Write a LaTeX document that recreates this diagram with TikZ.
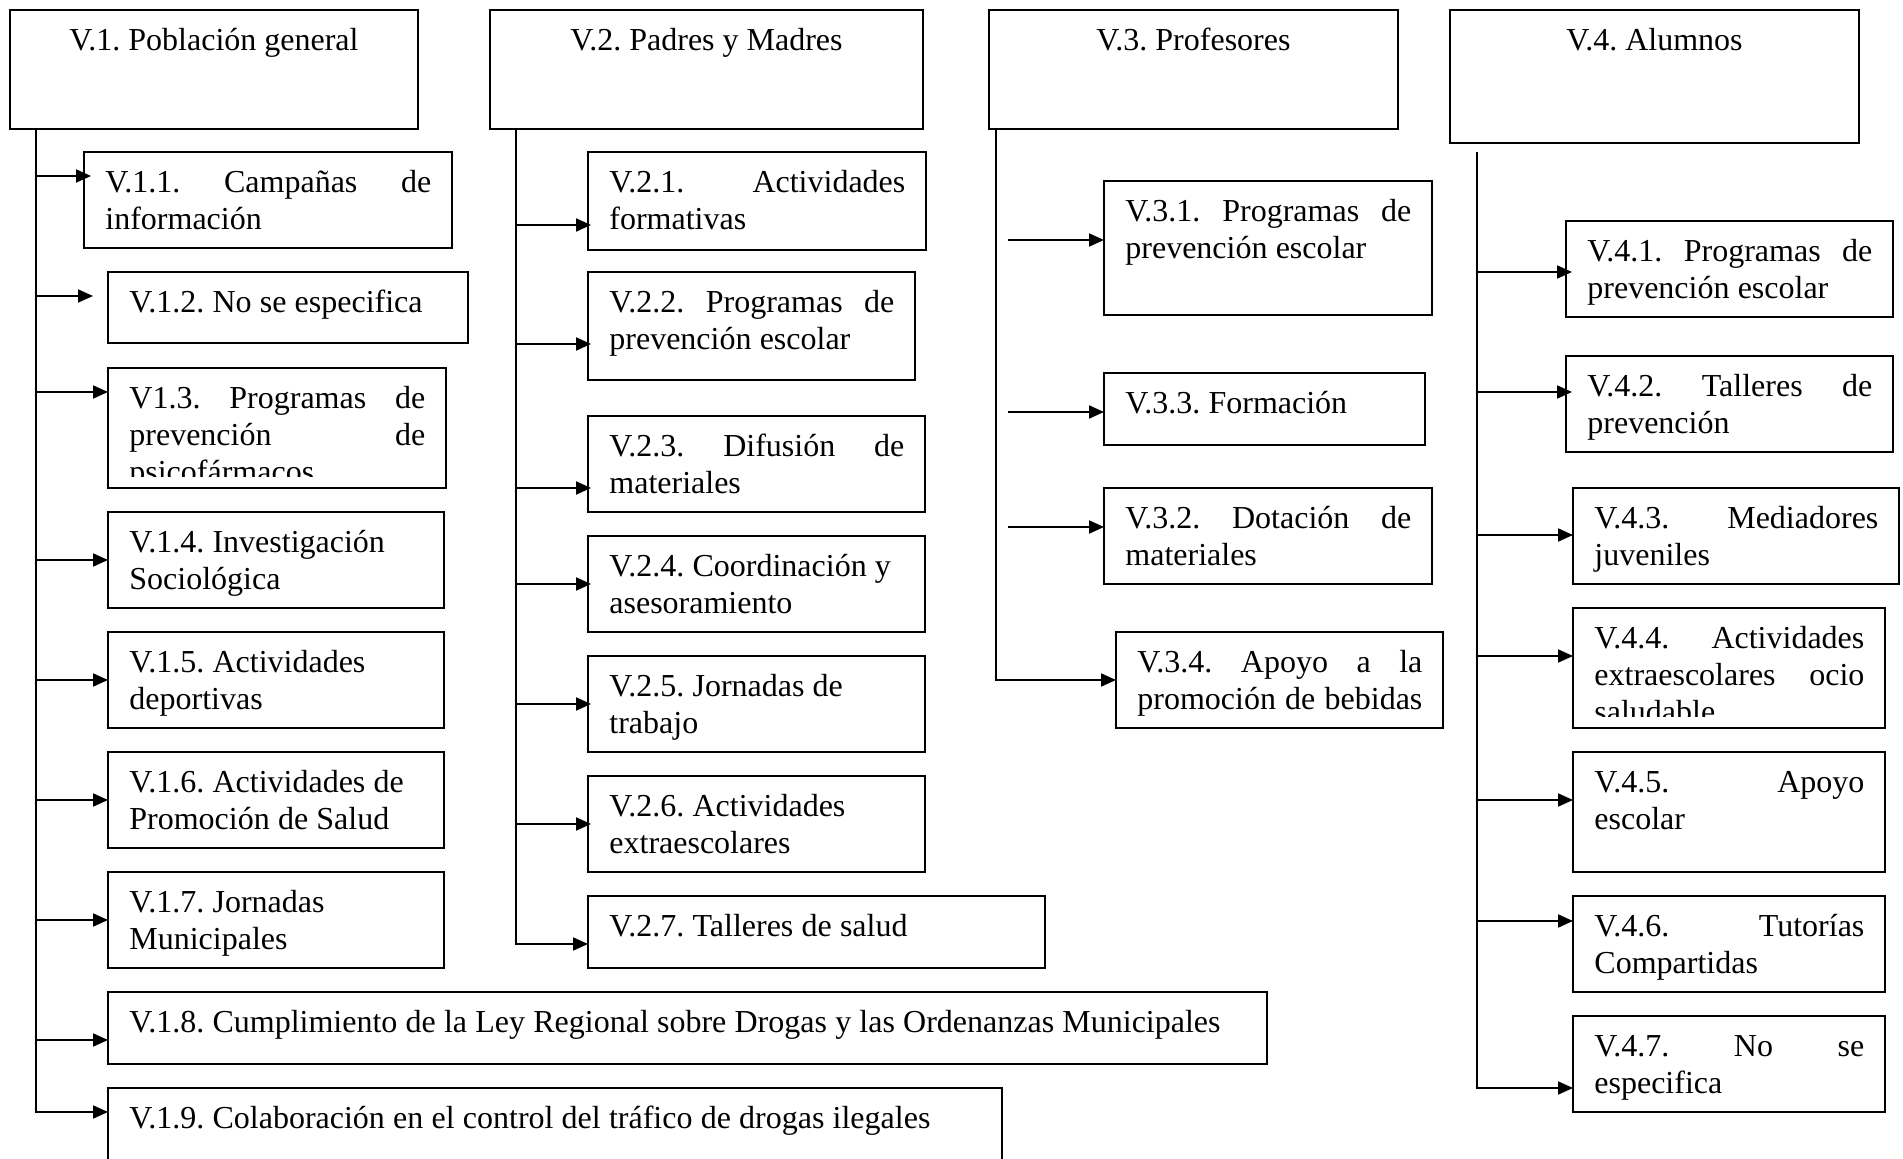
\documentclass[tikz,border=0pt]{standalone}
\usepackage{fontspec}
\setmainfont{Liberation Serif}
\usetikzlibrary{arrows.meta}
\frenchspacing
\hyphenpenalty=10000
\exhyphenpenalty=10000

% child box: name, x, y, width, height (in px units), text
\newcommand\childbox[6]{%
  \pgfmathsetmacro\bw{#4*0.5}%
  \pgfmathsetmacro\bh{#5*0.5}%
  \pgfmathsetmacro\tw{(#4-42)*0.5}%
  \node[frame, minimum width=\bw pt, minimum height=\bh pt] (#1) at (#2,#3) {};
  \begin{scope}
    \clip ([shift={(1pt,-1pt)}]#1.north west) rectangle ([shift={(-1pt,5.5pt)}]#1.south east);
    \node[itemtext, text width=\tw pt] at ([shift={(10.5pt,-20.25pt)}]#1.north west)
      {\spaceskip=4.1pt plus 1.5pt minus 1pt\relax #6};
  \end{scope}}

% heading box: name, x, y, width, height, text
\newcommand\headbox[6]{%
  \pgfmathsetmacro\bw{#4*0.5}%
  \pgfmathsetmacro\bh{#5*0.5}%
  \node[frame, minimum width=\bw pt, minimum height=\bh pt] (#1) at (#2,#3) {};
  \node[headtext] at ([yshift=-20.5pt]#1.north) {#6};}

\begin{document}
\begin{tikzpicture}[x=0.5pt,y=-0.5pt,
  frame/.style={draw, rectangle, line width=1pt, anchor=north west, inner sep=0pt, outer sep=0pt},
  itemtext/.style={anchor=base west, inner sep=0pt, font=\fontsize{16}{18.4}\selectfont},
  headtext/.style={anchor=base, inner sep=0pt, font=\fontsize{16}{18.4}\selectfont},
  arrowlink/.style={line width=1pt, -{Triangle[length=7.5pt,width=6.5pt]}}]

\useasboundingbox (0,0) rectangle (1903,1159);
\clip (0,0) rectangle (1903,1159);

% ---------- headings ----------
\headbox{h1}{10}{10}{408}{119}{V.1. Población general}
\headbox{h2}{490}{10}{433}{119}{V.2. Padres y Madres}
\headbox{h3}{989}{10}{409}{119}{V.3. Profesores}
\headbox{h4}{1450}{10}{409}{133}{V.4. Alumnos}

% ---------- V.1 ----------
\childbox{c11}{84}{152}{368}{96}{V.1.1.\hfill Campañas\hfill de\\información}
\childbox{c12}{108}{272}{360}{71}{V.1.2. No se especifica}
\childbox{c13}{108}{368}{338}{120}{V1.3.\hfill Programas\hfill de\\prevención\hfill de\\psicofármacos}
\childbox{c14}{108}{512}{336}{96}{V.1.4. Investigación\\Sociológica}
\childbox{c15}{108}{632}{336}{96}{V.1.5. Actividades\\deportivas}
\childbox{c16}{108}{752}{336}{96}{V.1.6. Actividades de\\Promoción de Salud}
\childbox{c17}{108}{872}{336}{96}{V.1.7. Jornadas\\Municipales}
\childbox{c18}{108}{992}{1159}{72}{V.1.8. Cumplimiento de la Ley Regional sobre Drogas y las Ordenanzas Municipales}
\childbox{c19}{108}{1088}{894}{110}{V.1.9. Colaboración en el control del tráfico de drogas ilegales}

% ---------- V.2 ----------
\childbox{c21}{588}{152}{338}{98}{V.2.1.\hfill Actividades\\formativas}
\childbox{c22}{588}{272}{327}{108}{V.2.2.\hfill Programas\hfill de\\prevención escolar}
\childbox{c23}{588}{416}{337}{96}{V.2.3.\hfill Difusión\hfill de\\materiales}
\childbox{c24}{588}{536}{337}{96}{V.2.4. Coordinación y\\asesoramiento}
\childbox{c25}{588}{656}{337}{96}{V.2.5. Jornadas de\\trabajo}
\childbox{c26}{588}{776}{337}{96}{V.2.6. Actividades\\extraescolares}
\childbox{c27}{588}{896}{457}{72}{V.2.7. Talleres de salud}

% ---------- V.3 ----------
\childbox{c31}{1104}{181}{328}{134}{V.3.1.\hfill Programas\hfill de\\prevención escolar}
\childbox{c33}{1104}{373}{321}{72}{V.3.3. Formación}
\childbox{c32}{1104}{488}{328}{96}{V.3.2.\hfill Dotación\hfill de\\materiales}
\childbox{c34}{1116}{632}{327}{96}{V.3.4.\hfill Apoyo\hfill a\hfill la\\promoción\hfill de\hfill bebidas}

% ---------- V.4 ----------
\childbox{c41}{1566}{221}{327}{96}{V.4.1.\hfill Programas\hfill de\\prevención escolar}
\childbox{c42}{1566}{356}{327}{96}{V.4.2.\hfill Talleres\hfill de\\prevención}
\childbox{c43}{1573}{488}{326}{96}{V.4.3.\hfill Mediadores\\juveniles}
\childbox{c44}{1573}{608}{312}{120}{V.4.4.\hfill Actividades\\extraescolares\hfill ocio\\saludable}
\childbox{c45}{1573}{752}{312}{120}{V.4.5.\hfill Apoyo\\escolar}
\childbox{c46}{1573}{896}{312}{96}{V.4.6.\hfill Tutorías\\Compartidas}
\childbox{c47}{1573}{1016}{312}{96}{V.4.7.\hfill No\hfill se\\especifica}

% ---------- branch points ----------
\coordinate (t1) at ([xshift=13pt]h1.south west);
\coordinate (a11) at (36,176);  \coordinate (a12) at (36,296);
\coordinate (a13) at (36,392);  \coordinate (a14) at (36,560);
\coordinate (a15) at (36,680);  \coordinate (a16) at (36,800);
\coordinate (a17) at (36,920);  \coordinate (a18) at (36,1040);
\coordinate (a19) at (36,1112);

\coordinate (t2) at ([xshift=13pt]h2.south west);
\coordinate (a21) at (516,225); \coordinate (a22) at (516,344);
\coordinate (a23) at (516,488); \coordinate (a24) at (516,584);
\coordinate (a25) at (516,704); \coordinate (a26) at (516,824);
\coordinate (a27) at (516,944);

\coordinate (t3) at ([xshift=3.5pt]h3.south west);
\coordinate (s31) at (1008,240); \coordinate (s33) at (1008,412);
\coordinate (s32) at (1008,527); \coordinate (a34) at (996,680);

\coordinate (t4) at ([shift={(13.5pt,-4.5pt)}]h4.south west);
\coordinate (a41) at (1477,272); \coordinate (a42) at (1477,392);
\coordinate (a43) at (1477,535); \coordinate (a44) at (1477,656);
\coordinate (a45) at (1477,800); \coordinate (a46) at (1477,921);
\coordinate (a47) at (1477,1088);

% ---------- connectors ----------
\draw[arrowlink] (t1) -- (a19) -- (a19 -| c19.west);
\draw[arrowlink] (a11) -- ([xshift=3.5pt]a11 -| c11.west);
\draw[arrowlink] (a12) -- ([xshift=-7.5pt]a12 -| c12.west);
\foreach \k in {13,14,15,16,17,18}
  \draw[arrowlink] (a\k) -- (a\k -| c\k.west);

\draw[arrowlink] (t2) -- (a27) -- (a27 -| c27.west);
\foreach \k in {21,22,23,24,25,26}
  \draw[arrowlink] (a\k) -- ([xshift=1.5pt]a\k -| c\k.west);

\draw[arrowlink] (t3) -- (a34) -- (a34 -| c34.west);
\foreach \k in {31,33,32}
  \draw[arrowlink] (s\k) -- (s\k -| c\k.west);

\draw[arrowlink] (t4) -- (a47) -- (a47 -| c47.west);
\draw[arrowlink] (a41) -- ([xshift=3pt]a41 -| c41.west);
\draw[arrowlink] (a42) -- ([xshift=3pt]a42 -| c42.west);
\foreach \k in {43,44,45,46}
  \draw[arrowlink] (a\k) -- (a\k -| c\k.west);

\end{tikzpicture}
\end{document}
